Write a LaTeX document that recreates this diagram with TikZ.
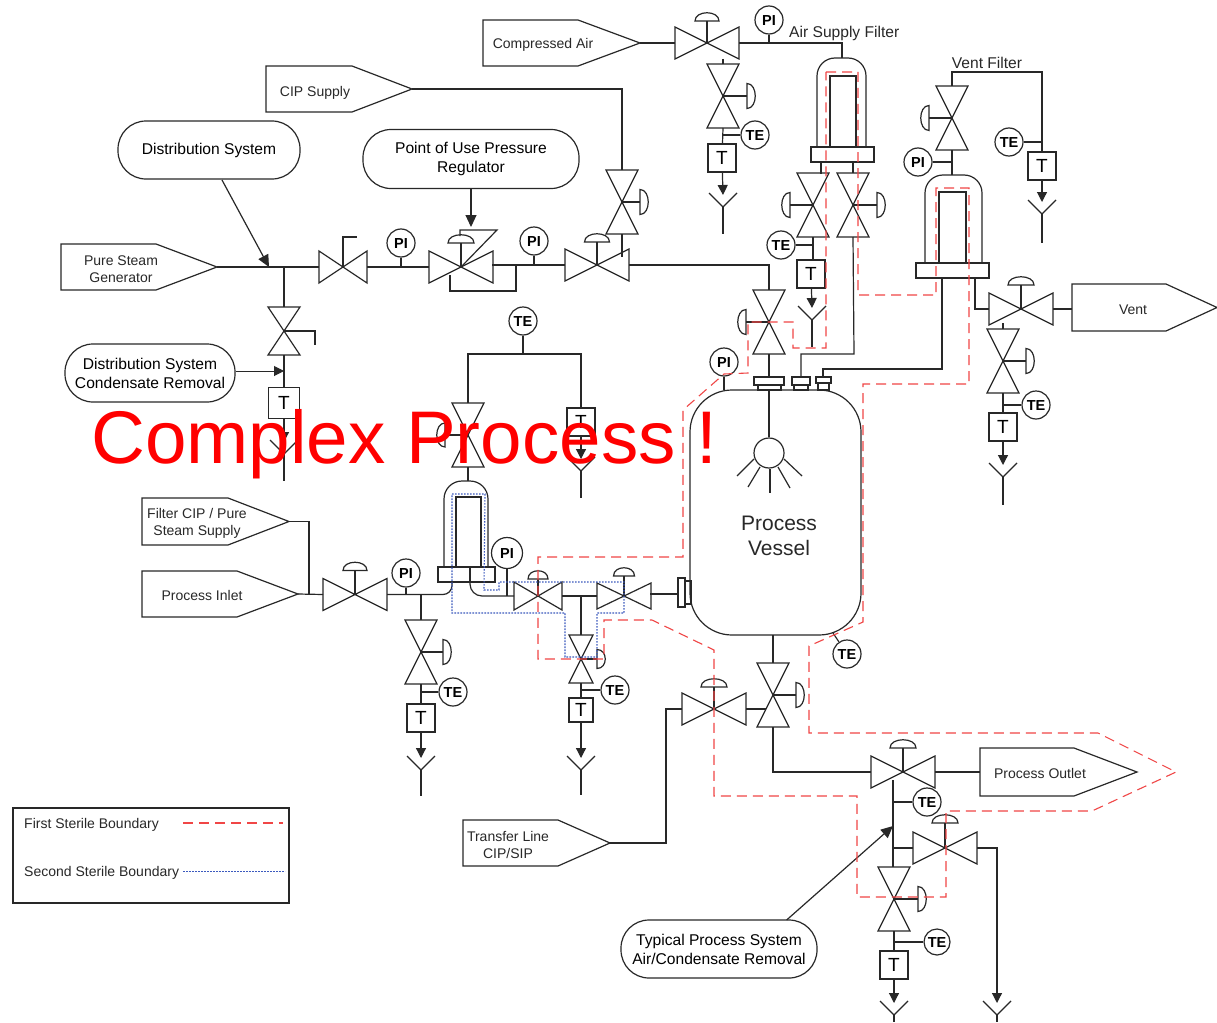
\documentclass[tikz,border=0pt]{standalone}
\usepackage{fontspec}
\setmainfont{Liberation Sans}
\usetikzlibrary{calc,arrows.meta}
\definecolor{sterA}{RGB}{240,70,70}
\definecolor{sterB}{RGB}{60,90,190}
\definecolor{ink}{RGB}{40,40,40}
\tikzset{
  pipe/.style={draw=ink,line width=1.2pt},
  flow/.style={draw=ink,line width=1.2pt,-{Triangle[length=10pt,width=10pt]}},
  point/.style={draw=ink,line width=1.2pt,-{Triangle[length=12pt,width=11pt]}},
  inst/.style={circle,draw=ink,line width=1.2pt,minimum size=28pt,inner sep=0pt,fill=white,text height=10.4pt,text depth=0pt,font=\fontsize{14.5}{16}\selectfont\bfseries},
  tbox/.style={rectangle,draw=ink,line width=1.1pt,minimum width=28pt,minimum height=28pt,inner sep=0pt,fill=white,text height=13.6pt,text depth=0pt,font=\fontsize{19}{20}\selectfont},
  stad/.style={rectangle,draw=ink,line width=1.2pt,rounded corners=28pt,inner sep=0pt,align=center,font=\fontsize{15.6}{19}\selectfont},
  lab/.style={inner sep=0pt,yshift=-1.5pt,align=center,text=ink,font=\fontsize{14}{17}\selectfont},
  first/.style={draw=sterA,line width=1.1pt,dash pattern=on 10pt off 6pt},
  second/.style={draw=sterB,line width=1.1pt,dash pattern=on 1.6pt off 1.4pt},
}
% horizontal valve: name, x, y, half width, half height
\newcommand{\hvalve}[5]{%
  \coordinate (#1) at (#2,#3);
  \coordinate (#1-w) at ($(#1)+(-#4,0)$);
  \coordinate (#1-e) at ($(#1)+(#4,0)$);
  \draw[pipe,line join=miter] (#1) -- ++(-#4,-#5) -- ++(0,2*#5) -- cycle;
  \draw[pipe,line join=miter] (#1) -- ++(#4,-#5) -- ++(0,2*#5) -- cycle;
}
% vertical valve
\newcommand{\vvalve}[5]{%
  \coordinate (#1) at (#2,#3);
  \coordinate (#1-n) at ($(#1)+(0,-#5)$);
  \coordinate (#1-s) at ($(#1)+(0,#5)$);
  \draw[pipe,line join=miter] (#1) -- ++(-#4,-#5) -- ++(2*#4,0) -- cycle;
  \draw[pipe,line join=miter] (#1) -- ++(-#4,#5) -- ++(2*#4,0) -- cycle;
}
% actuators: valve, stem length, half width of the dome
\newcommand{\actU}[3]{%
  \draw[pipe] (#1) -- ++(0,-#2) coordinate (#1-a);
  \draw[pipe] ($(#1-a)+(-#3,0)$) .. controls +(0,-11) and +(0,-11) .. ($(#1-a)+(#3,0)$) -- cycle;
}
\newcommand{\actR}[3]{%
  \draw[pipe] (#1) -- ++(#2,0) coordinate (#1-a);
  \draw[pipe] ($(#1-a)+(0,-#3)$) .. controls +(11,0) and +(11,0) .. ($(#1-a)+(0,#3)$) -- cycle;
}
\newcommand{\actL}[3]{%
  \draw[pipe] (#1) -- ++(-#2,0) coordinate (#1-a);
  \draw[pipe] ($(#1-a)+(0,-#3)$) .. controls +(-11,0) and +(-11,0) .. ($(#1-a)+(0,#3)$) -- cycle;
}
% drain funnel: name, x, y of the fork's bottom, stem end y
\newcommand{\drain}[4]{%
  \coordinate (#1) at (#2,#3);
  \coordinate (#1-tip) at (#2,#3-12);
  \draw[pipe] (#2-14,#3-14) -- (#1) -- (#2+14,#3-14);
  \draw[pipe] (#1) -- (#2,#4);
}
% pointed tag box: name, x1, y1, x2, y2, tip x
\newcommand{\tagbox}[6]{%
  \coordinate (#1-tip) at (#6,{(#3+#5)/2});
  \coordinate (#1-w) at (#2,{(#3+#5)/2});
  \draw[pipe,line join=miter] (#2,#3) -- (#4,#3) -- (#1-tip) -- (#4,#5) -- (#2,#5) -- cycle;
}
% filter housing
\newcommand{\filter}[9]{%
  \draw[pipe,rounded corners=18pt] (#1,#4) -- (#1,#3) -- (#2,#3) -- (#2,#4);
  \draw[pipe] (#5,#4) -- (#5,#7) -- (#6,#7) -- (#6,#4);
  \draw[pipe] (#8,#4) rectangle (#9,#4+15);
}
\begin{document}
\begin{tikzpicture}[x=1pt,y=-1pt]
\useasboundingbox (0,0) rectangle (1217,1022);
\fill[white] (0,0) rectangle (1217,1022);

% ---------- tag boxes
\tagbox{air}{483}{20}{578}{66}{640}
\node[lab] (airT) at (543,43) {Compressed Air};
\tagbox{cip}{266}{66}{352}{112}{412}
\node[lab] (cipT) at (315,91) {CIP Supply};
\tagbox{psg}{61}{244}{156}{290}{217}
\node[lab] (psgT) at (121,268) {Pure Steam\\Generator};
\tagbox{vnt}{1072}{284}{1166}{331}{1217}
\node[lab] (vntT) at (1133,308) {Vent};
\tagbox{fcip}{142}{498}{228}{545}{289}
\node[lab] (fcipT) at (197,522) {Filter CIP / Pure\\Steam Supply};
\tagbox{pin}{142}{571}{237}{617}{298}
\node[lab] (pinT) at (202,594) {Process Inlet};
\tagbox{pout}{980}{748}{1074}{796}{1137}
\node[lab] (poutT) at (1040,772) {Process Outlet};
\tagbox{trf}{463}{820}{558}{866}{610}
\node[lab] (trfT) at (508,843) {Transfer Line\\CIP/SIP};

% ---------- rounded call-outs
\node[stad,minimum width=182pt,minimum height=58pt] (dist) at (209,150) {Distribution System};
\node[stad,minimum width=216pt,minimum height=59pt] (pou) at (471,159) {Point of Use Pressure\\Regulator};
\node[stad,minimum width=170pt,minimum height=58pt] (cond) at (150,373) {Distribution System\\Condensate Removal};
\node[stad,minimum width=196pt,minimum height=58pt] (typ) at (719,949) {Typical Process System\\Air/Condensate Removal};

% ---------- vessel
\node[draw=ink,line width=1.2pt,rounded corners=42pt,minimum width=171pt,minimum height=245pt,inner sep=0pt] (vessel) at (775.5,512.5) {};
\node[inner sep=0pt,align=center,text=ink,font=\fontsize{21}{25}\selectfont] (vesT) at (779,536) {Process\\Vessel};
\node[circle,draw=ink,line width=1.2pt,minimum size=30pt,inner sep=0pt] (ball) at (769,453) {};
\coordinate (vtop) at (769,390);
\draw[pipe] (vtop) -- (ball);
\draw[pipe] (754,459) -- (737,476);
\draw[pipe] (760,467) -- (748,487);
\draw[pipe] (770,469) -- (770,493);
\draw[pipe] (778,467) -- (790,488);
\draw[pipe] (784,459) -- (802,476);
% nozzles
\draw[pipe] (754,377) rectangle (784,385);
\draw[pipe] (758,385) rectangle (781,390);
\draw[pipe] (792,377) rectangle (810,385);
\draw[pipe] (794,385) rectangle (808,390);
\draw[pipe] (816,377) rectangle (831,383);
\draw[pipe] (818,383) rectangle (829,390);
\draw[pipe] (678,578) rectangle (685,607);
\draw[pipe] (685,581) rectangle (691,604);
\coordinate (noz1) at (769,377);
\coordinate (noz2) at (801,377);
\coordinate (noz3) at (823,377);
\coordinate (nozL) at (678,594);

% ---------- compressed air
\hvalve{va}{707}{43}{32}{16}
\actU{va}{22}{12}
\draw[pipe] (air-tip) -- (va-w);
\node[inst] (piA) at (769,20) {PI};
\coordinate (afIn) at (842,58);
\draw[pipe] (va-e) -- (842,43) -- (afIn);
\draw[pipe] (piA) -- (769,43);
\node[font=\fontsize{15.6}{18}\selectfont,text=ink,anchor=west,inner sep=0pt,yshift=-1pt] (afT) at (789,32) {Air Supply Filter};
\vvalve{vb}{723}{96}{16}{32}
\actR{vb}{24}{12.5}
\draw[pipe] (723,59) -- (vb-n);
\node[tbox] (tA) at (722,158) {T};
\node[inst] (teA) at (755,135) {TE};
\draw[pipe] (vb-s) -- (tA);
\draw[pipe] (teA) -- (723,135);
\drain{dA}{723}{207}{234}
\draw[flow] (tA) -- (dA-tip);

% ---------- air filter
\filter{817}{866}{58}{147}{830}{856}{76}{811}{874}
\vvalve{vc}{813}{205}{16}{32}
\actL{vc}{23}{12.5}
\vvalve{vd}{853}{205}{16}{32}
\actR{vd}{24}{12.5}
\draw[pipe] (821,162) -- (821,174);
\draw[pipe] (853,162) -- (vd-n);
\node[inst] (teC) at (781,245) {TE};
\node[tbox] (tC) at (811,274) {T};
\draw[pipe] (vc-s) -- (813,260);
\draw[pipe] (teC) -- (813,245);
\drain{dC}{812}{320}{347}
\draw[flow] (tC) -- (dC-tip);
\draw[pipe] (vd-s) -- (854,354) -- (801,354) -- (noz2);

% ---------- vent filter
\node[font=\fontsize{15.6}{18}\selectfont,text=ink,inner sep=0pt,yshift=-1pt] (vfT) at (987,62) {Vent Filter};
\vvalve{ve}{952}{118}{16}{32}
\actL{ve}{23}{12.5}
\node[inst] (piE) at (918,162) {PI};
\node[tbox] (tE) at (1042,166) {T};
\node[inst] (teE) at (1009,142) {TE};
\draw[pipe] (ve-n) -- (952,72) -- (1042,72) -- (tE);
\draw[pipe] (teE) -- (1042,142);
\draw[pipe] (ve-s) -- (952,175);
\draw[pipe] (piE) -- (952,162);
\drain{dE}{1042}{214}{243}
\draw[flow] (tE) -- (dE-tip);
\filter{925}{982}{175}{263}{939}{966}{192}{916}{989}
\draw[pipe] (942,278) -- (942,369) -- (823,369) -- (noz3);

% ---------- vent
\hvalve{vf}{1021}{309}{32}{16}
\actU{vf}{24}{13}
\draw[pipe] (975,278) -- (975,309) -- (vf-w);
\draw[pipe] (vf-e) -- (vf-e -| vnt-w);
\vvalve{vg}{1003}{361}{16}{32}
\actR{vg}{23}{12.5}
\draw[pipe] (1003,323) -- (vg-n);
\node[inst] (teG) at (1036,405) {TE};
\node[tbox] (tG) at (1003,427) {T};
\draw[pipe] (vg-s) -- (tG);
\draw[pipe] (teG) -- (1003,405);
\drain{dG}{1003}{477}{505}
\draw[flow] (tG) -- (dG-tip);

% ---------- pure steam header
\draw[pipe] (cip-tip) -- (622,89) -- (622,170);
\hvalve{v1}{343}{267}{24}{16}
\draw[pipe] (v1) -- (343,237) -- (357,237);
\draw[pipe] (psg-tip) -- (v1-w);
\coordinate (jA) at (284,267);
\draw[point] (222,180) -- (269,267);
\node[inst] (pi1) at (401,243) {PI};
\hvalve{v2}{461}{267}{32}{16}
\actU{v2}{24}{13}
\draw[pipe,line join=miter] (460,236) -- (460,230) -- (497,230) -- (v2);
\draw[pipe] (v1-e) -- (v2-w);
\draw[pipe] (pi1) -- (401,267);
\draw[point] (pou) -- (471,227);
\draw[pipe] (450,275) -- (450,291) -- (516,291) -- (516,265);
\hvalve{v3}{597}{265}{32}{16}
\actU{v3}{23}{12.5}
\node[inst] (pi3) at (534,241) {PI};
\draw[pipe] (492,265) -- (v3-w);
\draw[pipe] (pi3) -- (534,265);
\vvalve{v4}{622}{202}{16}{32}
\actR{v4}{18}{12.5}
\draw[pipe] (v4-s) -- (622,257);
\vvalve{v5}{769}{322}{16}{32}
\actL{v5}{23}{12.5}
\draw[pipe] (v3-e) -- (769,265) -- (v5-n);
\draw[pipe] (v5-s) -- (noz1);
\node[inst] (pi5) at (724,362) {PI};
\draw[pipe] (pi5) -- (724,390);

% ---------- condensate branch
\vvalve{v6}{284}{331}{16}{24}
\draw[pipe] (jA) -- (v6-n);
\draw[pipe] (v6) -- (315,331) -- (315,345);
\node[tbox,minimum width=31pt,minimum height=31pt] (t6) at (284,403) {T};
\draw[pipe] (v6-s) -- (t6);
\draw[flow,line width=1pt] (cond.east |- 0,371) -- (284,371);
\drain{d6}{284}{454}{481}
\draw[flow] (t6) -- (d6-tip);

% ---------- process filter group
\node[inst] (teH) at (523,321) {TE};
\vvalve{v7}{468}{435}{16}{32}
\actL{v7}{23}{12}
\node[tbox] (t7) at (581,422) {T};
\draw[pipe] (v7-n) -- (468,354) -- (581,354) -- (t7);
\draw[pipe] (teH) -- (523,354);
\drain{d7}{581}{471}{498}
\draw[flow] (t7) -- (d7-tip);
\filter{444}{488}{481}{567}{456}{481}{497}{438}{495}
\draw[pipe] (470,567) -- (470,582);
\draw[pipe] (v7-s) -- (468,481);

% ---------- process inlet
\draw[pipe] (fcip-tip) -- (309,521.5) -- (309,594);
\hvalve{v8}{355}{594.5}{32}{16}
\actU{v8}{24}{12}
\draw[pipe] (pin-tip) -- (v8-w);
\draw[pipe,rounded corners=9pt] (v8-e) -- (452,594.5) -- (452,582);
\node[inst] (pi8) at (406,573) {PI};
\draw[pipe] (pi8) -- (406,595);
\vvalve{v9}{421}{652}{16}{32}
\actR{v9}{22}{12.5}
\draw[pipe] (421,595) -- (v9-n);
\node[inst] (te9) at (453,692) {TE};
\node[tbox] (t9) at (421,718) {T};
\draw[pipe] (v9-s) -- (t9);
\draw[pipe] (te9) -- (421,692);
\drain{d9}{421}{770}{796}
\draw[flow] (t9) -- (d9-tip);

% ---------- valves into the vessel
\hvalve{v10}{538}{596}{24}{14}
\actU{v10}{17}{10}
\draw[pipe,rounded corners=12pt] (470,581) -- (470,596) -- (v10-w);
\node[inst,minimum size=31pt] (pi10) at (507,553) {PI};
\draw[pipe] (pi10) -- (507,596);
\hvalve{v11}{624}{596}{27}{13}
\actU{v11}{20}{10.5}
\draw[pipe] (v10-e) -- (v11-w);
\draw[pipe] (650,594) -- (nozL);
\vvalve{v12}{581}{659}{12}{24}
\actR{v12}{16}{9.5}
\draw[pipe] (581,596) -- (v12-n);
\node[tbox,minimum width=24pt,minimum height=24pt] (t12) at (581,710) {T};
\draw[pipe] (v12-s) -- (t12);
\node[inst] (te12) at (615,690) {TE};
\draw[pipe] (te12) -- (581,690);
\drain{d12}{581}{770}{795}
\draw[flow] (t12) -- (d12-tip);

% ---------- vessel outlet
\vvalve{v13}{773}{695}{16}{32}
\actR{v13}{23}{12.5}
\draw[pipe] (773,635) -- (v13-n);
\node[inst] (te13) at (847,654) {TE};
\draw[pipe] (833,633) -- (te13);
\hvalve{v14}{714}{709}{32}{16}
\actU{v14}{22}{13}
\draw[pipe] (v14-e) -- (766,709);
\draw[pipe] (trf-tip) -- (666,843) -- (666,709) -- (v14-w);
\hvalve{v15}{903}{772}{32}{16}
\actU{v15}{24}{13}
\draw[pipe] (v13-s) -- (773,772) -- (v15-w);
\draw[pipe] (v15-e) -- (pout-w);
\node[inst] (te15) at (927,802) {TE};
\vvalve{v16}{894}{899}{16}{32}
\actR{v16}{24}{12.5}
\draw[pipe] (893,780) -- (893,867);
\draw[pipe] (te15) -- (893,802);
\hvalve{v17}{945}{848}{32}{16}
\actU{v17}{25}{13}
\draw[pipe] (893,848) -- (v17-w);
\drain{d17}{997}{1015}{1022}
\draw[flow] (v17-e) -- (997,848) -- (d17-tip);
\draw[point] (typ.north east |- 0,920) ++(-31,0) -- (893,826);
\node[inst,minimum size=26pt] (te16) at (937,942) {TE};
\node[tbox] (t16) at (894,965) {T};
\draw[pipe] (v16-s) -- (t16);
\draw[pipe] (te16) -- (894,942);
\drain{d16}{894}{1015}{1022}
\draw[flow] (t16) -- (d16-tip);

% ---------- sterile boundaries
\draw[first] (826,72) -- (858,72) -- (858,295) -- (936,295) -- (936,188) -- (969,188) -- (969,384) -- (863,384) -- (863,622) -- (809,646) -- (809,733) -- (1098,733) -- (1176,772) -- (1092,811) -- (946,811) -- (946,897) -- (857,897) -- (857,796) -- (714,796) -- (714,650) -- (652,620) -- (604,620) -- (604,659) -- (538,659) -- (538,557) -- (683,557) -- (683,410) -- (724,374) -- (748,373) -- (748,322) -- (793,322) -- (793,348) -- (826,348) -- cycle;
\draw[second] (452,494) -- (485,494) -- (484,590) -- (499,590) -- (499,582) -- (624,582) -- (624,613) -- (597,613) -- (597,657) -- (565,657) -- (565,613) -- (452,613) -- cycle;

% ---------- legend
\node[draw=ink,line width=1.4pt,minimum width=276pt,minimum height=95pt,inner sep=0pt] (leg) at (151,855.5) {};
\node[lab,anchor=west] (leg1) at (24,823) {First Sterile Boundary};
\node[lab,anchor=west] (leg2) at (24,871) {Second Sterile Boundary};
\coordinate (legA) at (183,823);
\coordinate (legB) at (183,871);
\draw[first] (legA) -- (283,823);
\draw[second,line width=0.9pt] (legB) -- (285,871);

% ---------- overlay title
\node[text=red,inner sep=0pt,anchor=base west,font=\fontsize{74.6}{80}\selectfont] (title) at (91,463) {Complex Process !};
\end{tikzpicture}
\end{document}
